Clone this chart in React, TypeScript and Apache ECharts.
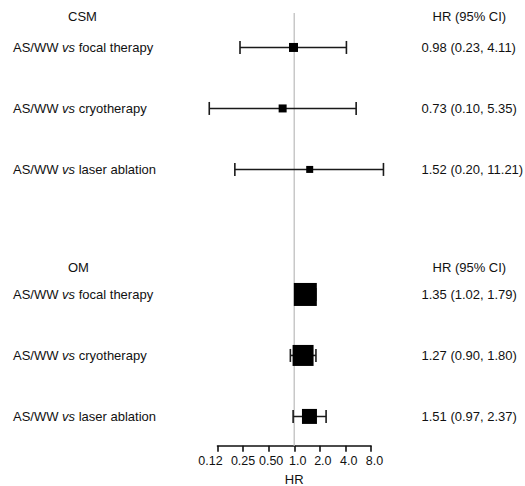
import React, { useEffect, useRef } from 'react';
import * as echarts from 'echarts';

// ---- data ----
const groups = ['CSM', 'OM'];
const comparisons = ['focal therapy', 'cryotherapy', 'laser ablation'];
const csmHR = [0.98, 0.73, 1.52];
const csmLower = [0.23, 0.1, 0.2];
const csmUpper = [4.11, 5.35, 11.21];
const omHR = [1.35, 1.27, 1.51];
const omLower = [1.02, 0.9, 0.97];
const omUpper = [1.79, 1.8, 2.37];
const xTickLabels = ['0.12', '0.25', '0.50', '1.0', '2.0', '4.0', '8.0'];
const xMin = 0.125;
const xMax = 8;

// ---- layout / style ----
const FONT = '"Liberation Sans", Arial, Helvetica, sans-serif';
const FS = 13;
const TEXT_COLOR = '#111';
const headerSlots = [0, 8.2];
const rowSlots = [
  [1, 3, 5],
  [9.1, 11.1, 13.1],
];
const boxSizes = [
  [9, 8, 7],
  [23, 21, 15],
];
// horizontal nudges of the tick labels (px), as in the reference
const tickLabelShift = [-7, 0, 2.5, 3.5, 3, 3.3, 3.5];
const Y_MIN = -0.13;
const Y_MAX = 14.06;

const fmt = (v: number) => v.toFixed(2);

export default function App() {
  const ref = useRef<HTMLDivElement>(null);
  useEffect(() => {
    if (!ref.current) return;
    const chart = echarts.init(ref.current, null, { renderer: 'svg' });

    const hrs = [csmHR, omHR];
    const los = [csmLower, omLower];
    const his = [csmUpper, omUpper];
    const rows: any[] = [];
    groups.forEach((g, gi) => {
      comparisons.forEach((c, ci) => {
        rows.push({
          value: [hrs[gi][ci], los[gi][ci], his[gi][ci], rowSlots[gi][ci], boxSizes[gi][ci]],
          label: c,
          ci: `${fmt(hrs[gi][ci])} (${fmt(los[gi][ci])}, ${fmt(his[gi][ci])})`,
        });
      });
    });
    const headers = groups.map((g, gi) => ({ value: [1, headerSlots[gi]], name: g }));

    const lineStyle = { stroke: '#1a1a1a', lineWidth: 1.6 };
    const textBase = { fontSize: FS, fontFamily: FONT, fill: TEXT_COLOR };

    const tickRich: any = {};
    tickLabelShift.forEach((s, i) => {
      tickRich['t' + i] = {
        fontSize: 12.5,
        fontFamily: FONT,
        color: TEXT_COLOR,
        padding: s >= 0 ? [0, 0, 0, 2 * s] : [0, -2 * s, 0, 0],
      };
    });

    const option: any = {
      animation: false,
      grid: { left: 217.5, right: 154, top: 13, bottom: 40.3, outerBoundsMode: 'none', containLabel: false },
      xAxis: {
        type: 'log',
        logBase: 2,
        min: xMin,
        max: xMax,
        position: 'bottom',
        name: 'HR',
        nameLocation: 'middle',
        nameGap: 26,
        nameTextStyle: { fontSize: FS, fontFamily: FONT, color: TEXT_COLOR },
        axisLine: { show: true, onZero: false, lineStyle: { color: '#111', width: 1.6 } },
        axisTick: { show: true, length: 6, lineStyle: { color: '#111', width: 1.6 } },
        axisLabel: {
          fontSize: 12.5,
          fontFamily: FONT,
          color: TEXT_COLOR,
          margin: 9,
          hideOverlap: false,
          formatter: (v: number) => {
            const i = Math.round(Math.log2(v / xMin));
            return xTickLabels[i] ? `{t${i}|${xTickLabels[i]}}` : '';
          },
          rich: tickRich,
        },
        splitLine: { show: false },
      },
      yAxis: {
        type: 'value',
        inverse: true,
        min: Y_MIN,
        max: Y_MAX,
        show: false,
        splitLine: { show: false },
      },
      series: [
        {
          type: 'line',
          z: 1,
          silent: true,
          symbol: 'none',
          lineStyle: { color: '#c8c8c8', width: 1.5 },
          data: [
            [1, Y_MIN],
            [1, Y_MAX],
          ],
        },
        {
          type: 'custom',
          z: 3,
          clip: false,
          encode: { x: [0, 1, 2], y: 3 },
          data: rows,
          renderItem: (params: any, api: any) => {
            const item = rows[params.dataIndex];
            const hr = api.value(0);
            const lo = api.value(1);
            const hi = api.value(2);
            const slot = api.value(3);
            const size = api.value(4);
            const pLo = api.coord([lo, slot]);
            const pHi = api.coord([hi, slot]);
            const pHr = api.coord([hr, slot]);
            const y = pHr[1];
            const cap = 6.5;
            return {
              type: 'group',
              children: [
                { type: 'line', shape: { x1: pLo[0], y1: y, x2: pHi[0], y2: y }, style: lineStyle },
                { type: 'line', shape: { x1: pLo[0], y1: y - cap, x2: pLo[0], y2: y + cap }, style: lineStyle },
                { type: 'line', shape: { x1: pHi[0], y1: y - cap, x2: pHi[0], y2: y + cap }, style: lineStyle },
                {
                  type: 'rect',
                  shape: { x: pHr[0] - size / 2, y: y - size / 2, width: size, height: size },
                  style: { fill: '#000' },
                },
                {
                  type: 'text',
                  x: 13,
                  y,
                  style: {
                    text: `{n|AS/WW }{it|vs}{n| ${item.label}}`,
                    rich: {
                      n: { ...textBase },
                      it: { ...textBase, fontStyle: 'italic' },
                    },
                    ...textBase,
                    align: 'left',
                    verticalAlign: 'middle',
                  },
                },
                {
                  type: 'text',
                  x: 421.5,
                  y,
                  style: { text: item.ci, ...textBase, align: 'left', verticalAlign: 'middle' },
                },
              ],
            };
          },
        },
        {
          type: 'custom',
          z: 3,
          clip: false,
          encode: { x: 0, y: 1 },
          data: headers,
          renderItem: (params: any, api: any) => {
            const h = headers[params.dataIndex];
            const p = api.coord([api.value(0), api.value(1)]);
            return {
              type: 'group',
              children: [
                {
                  type: 'text',
                  x: 68,
                  y: p[1],
                  style: { text: h.name, ...textBase, align: 'left', verticalAlign: 'middle' },
                },
                {
                  type: 'text',
                  x: 432.5,
                  y: p[1],
                  style: { text: 'HR (95% CI)', ...textBase, align: 'left', verticalAlign: 'middle' },
                },
              ],
            };
          },
        },
      ],
    };
    chart.setOption(option);
    return () => chart.dispose();
  }, []);
  return (
    <div
      ref={ref}
      style={{ position: 'fixed', left: 0, top: 0, width: 525, height: 486, background: '#fff' }}
    />
  );
}
